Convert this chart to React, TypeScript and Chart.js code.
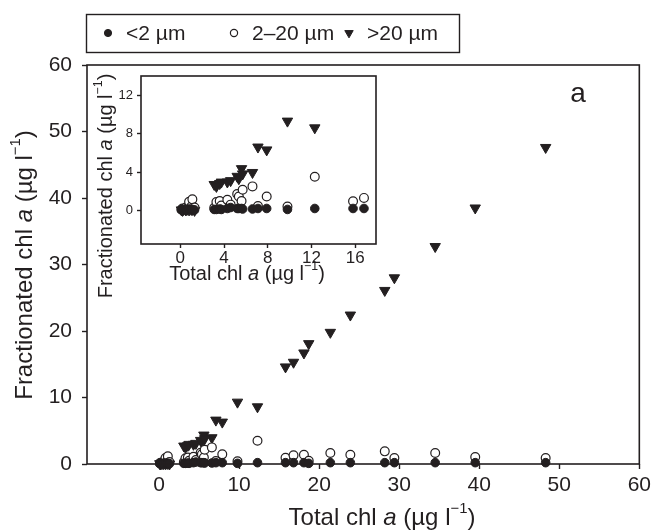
import React, { useEffect, useRef } from 'react';
import { Chart, registerables } from 'chart.js';
Chart.register(...registerables);

const FONT = '"Liberation Sans", Arial, Helvetica, sans-serif';
const INK = '#231f20';

// Total chl a (x) for each sample
const totalChl = [0.1, 0.2, 0.3, 0.5, 0.6, 0.8, 1.0, 1.1, 1.3, 3.1, 3.3, 3.6, 3.75, 4.3, 4.6, 5.2, 5.35, 5.6, 5.7, 6.6, 7.1, 7.9, 9.8, 12.3, 15.8, 16.8, 18.1, 18.7, 21.4, 23.9, 28.2, 29.4, 34.5, 39.5, 48.3];
// <2 µm fraction
const chlSmall = [0.05, 0.1, 0.05, 0.1, 0.05, 0.15, 0.1, 0.1, 0.05, 0.1, 0.1, 0.15, 0.1, 0.2, 0.3, 0.2, 0.2, 0.2, 0.15, 0.15, 0.2, 0.2, 0.1, 0.2, 0.2, 0.2, 0.2, 0.1, 0.2, 0.2, 0.2, 0.2, 0.2, 0.2, 0.2];
// 2–20 µm fraction
const chlMid = [0.1, 0.2, 0.15, 0.3, 0.2, 0.9, 0.4, 1.15, 0.3, 0.28, 0.87, 0.97, 0.5, 1.1, 0.6, 1.7, 1.45, 0.97, 2.15, 2.5, 0.45, 1.45, 0.4, 3.5, 0.95, 1.3, 1.4, 0.5, 1.65, 1.4, 1.9, 0.9, 1.65, 1.05, 0.9];
// >20 µm fraction
const chlLarge = [0.05, 0, 0.1, 0.05, 0.1, 0.05, 0.1, 0.1, 0, 2.7, 2.5, 2.8, 2.95, 2.96, 3.1, 3.55, 3.3, 4.35, 3.8, 3.95, 6.6, 6.3, 9.3, 8.6, 14.6, 15.3, 16.7, 18.1, 19.8, 22.4, 26.1, 28.0, 32.7, 38.5, 47.6];

const seriesLabels = ['<2 µm', '2–20 µm', '>20 µm'];
const mainXTicks = [0, 10, 20, 30, 40, 50, 60];
const mainYTicks = [0, 10, 20, 30, 40, 50, 60];
const insetXTicks = [0, 4, 8, 12, 16];
const insetYTicks = [0, 4, 8, 12];
const panelLabel = 'a';

const MAIN_X = [-9, 60];
const MAIN_Y = [0, 60];
const INSET_X = [-3.6, 17.9];
const INSET_Y = [-3.5, 14];

type Seg = { t: string; italic?: boolean; sup?: boolean };
const xTitleSegs: Seg[] = [{ t: 'Total chl ' }, { t: 'a', italic: true }, { t: ' (µg l' }, { t: '−1', sup: true }, { t: ')' }];
const yTitleSegs: Seg[] = [{ t: 'Fractionated chl ' }, { t: 'a', italic: true }, { t: ' (µg l' }, { t: '−1', sup: true }, { t: ')' }];

function segFont(s: Seg, size: number) {
  const sz = s.sup ? size * 0.62 : size;
  return `${s.italic ? 'italic ' : ''}${sz}px ${FONT}`;
}

function drawRich(ctx: CanvasRenderingContext2D, segs: Seg[], size: number, cx: number, cy: number, rotate: boolean) {
  ctx.save();
  ctx.translate(cx, cy);
  if (rotate) ctx.rotate(-Math.PI / 2);
  let total = 0;
  for (const s of segs) {
    ctx.font = segFont(s, size);
    total += ctx.measureText(s.t).width;
  }
  let x = -total / 2;
  ctx.fillStyle = INK;
  ctx.textBaseline = 'middle';
  ctx.textAlign = 'left';
  for (const s of segs) {
    ctx.font = segFont(s, size);
    ctx.fillText(s.t, x, s.sup ? -size * 0.36 : 0);
    x += ctx.measureText(s.t).width;
  }
  ctx.restore();
}

function pts(ys: number[], xr?: number[], yr?: number[]) {
  return totalChl
    .map((x, i) => ({ x, y: ys[i] }))
    .filter((p) => !xr || !yr || (p.x <= xr[1] && p.y <= yr[1]));
}

function makeDatasets(inset: boolean) {
  const c = inset ? 0 : false;
  const xr = inset ? INSET_X : undefined;
  const yr = inset ? INSET_Y : undefined;
  return [
    { label: seriesLabels[0], data: pts(chlSmall, xr, yr), pointStyle: 'circle', pointRadius: 4.3, backgroundColor: INK, borderColor: INK, borderWidth: 1, clip: c },
    { label: seriesLabels[1], data: pts(chlMid, xr, yr), pointStyle: 'circle', pointRadius: 4.4, backgroundColor: '#ffffff', borderColor: INK, borderWidth: 1.2, clip: c },
    { label: seriesLabels[2], data: pts(chlLarge, xr, yr), pointStyle: 'triangle', pointRotation: 180, pointRadius: 6, backgroundColor: INK, borderColor: INK, borderWidth: 1, clip: c },
  ];
}

function drawMarker(ctx: CanvasRenderingContext2D, ds: any, x: number, y: number, r: number) {
  ctx.save();
  ctx.fillStyle = ds.backgroundColor;
  ctx.strokeStyle = ds.borderColor;
  ctx.lineWidth = ds.borderWidth;
  ctx.beginPath();
  if (ds.pointStyle === 'triangle') {
    const rr = r * 1.35;
    ctx.moveTo(x - rr * 0.866, y - rr * 0.5);
    ctx.lineTo(x + rr * 0.866, y - rr * 0.5);
    ctx.lineTo(x, y + rr);
    ctx.closePath();
  } else {
    ctx.arc(x, y, r, 0, Math.PI * 2);
  }
  ctx.fill();
  ctx.stroke();
  ctx.restore();
}

const mainDecor = {
  id: 'mainDecor',
  afterDraw(chart: any) {
    const ctx: CanvasRenderingContext2D = chart.ctx;
    const a = chart.chartArea;
    ctx.save();
    ctx.strokeStyle = INK;
    ctx.lineWidth = 1.6;
    ctx.strokeRect(a.left, a.top, a.right - a.left, a.bottom - a.top);
    // panel label
    ctx.fillStyle = INK;
    ctx.font = `28px ${FONT}`;
    ctx.textAlign = 'center';
    ctx.textBaseline = 'alphabetic';
    ctx.fillText(panelLabel, 578, 102);
    // legend
    ctx.lineWidth = 1.4;
    ctx.strokeRect(86.5, 14.5, 373, 38);
    const items = [
      { mx: 108, tx: 126 },
      { mx: 234, tx: 252 },
      { mx: 349, tx: 367 },
    ];
    ctx.font = `21px ${FONT}`;
    ctx.textBaseline = 'middle';
    ctx.textAlign = 'left';
    chart.data.datasets.forEach((ds: any, i: number) => {
      drawMarker(ctx, ds, items[i].mx, 33, 3.6);
      ctx.fillStyle = INK;
      ctx.fillText(ds.label, items[i].tx, 34);
    });
    ctx.restore();
    drawRich(ctx, xTitleSegs, 24, 382, 518, false);
    drawRich(ctx, yTitleSegs, 24, 25, 265, true);
  },
};

const insetDecor = {
  id: 'insetDecor',
  beforeDraw(chart: any) {
    const ctx: CanvasRenderingContext2D = chart.ctx;
    const a = chart.chartArea;
    ctx.save();
    ctx.fillStyle = '#ffffff';
    ctx.fillRect(a.left, a.top, a.right - a.left, a.bottom - a.top);
    ctx.restore();
  },
  afterDraw(chart: any) {
    const ctx: CanvasRenderingContext2D = chart.ctx;
    const a = chart.chartArea;
    ctx.save();
    ctx.strokeStyle = INK;
    ctx.lineWidth = 1.6;
    ctx.strokeRect(a.left, a.top, a.right - a.left, a.bottom - a.top);
    ctx.restore();
    drawRich(ctx, xTitleSegs, 20, 247, 274, false);
    drawRich(ctx, yTitleSegs, 20, 106, 186, true);
  },
};

function axis(range: number[], ticks: number[], size: number, fontSize: number, pad: number, tickLen: number, isX: boolean) {
  return {
    type: 'linear' as const,
    min: range[0],
    max: range[1],
    afterBuildTicks: (s: any) => {
      s.ticks = ticks.map((v) => ({ value: v }));
    },
    afterFit: (s: any) => {
      if (isX) s.height = size;
      else s.width = size;
    },
    grid: { display: true, drawOnChartArea: false, drawTicks: true, tickLength: tickLen, tickColor: INK, tickWidth: 1.4 },
    border: { display: false },
    ticks: { font: { size: fontSize, family: FONT }, color: INK, padding: pad, maxRotation: 0, autoSkip: false },
    title: { display: false },
  };
}

export default function App() {
  const mainRef = useRef<HTMLCanvasElement>(null);
  const insetRef = useRef<HTMLCanvasElement>(null);

  useEffect(() => {
    const main = new Chart(mainRef.current as HTMLCanvasElement, {
      type: 'scatter',
      data: { datasets: makeDatasets(false) as any },
      options: {
        responsive: false,
        animation: false,
        devicePixelRatio: 1,
        layout: { padding: { top: 65, right: 13, left: 0, bottom: 0 } },
        plugins: { legend: { display: false }, tooltip: { enabled: false } },
        scales: {
          x: axis(MAIN_X, mainXTicks, 68, 21, 4, 5, true),
          y: axis(MAIN_Y, mainYTicks, 87, 21, 10, 5, false),
        },
      },
      plugins: [mainDecor],
    });
    const inset = new Chart(insetRef.current as HTMLCanvasElement, {
      type: 'scatter',
      data: { datasets: makeDatasets(true) as any },
      options: {
        responsive: false,
        animation: false,
        devicePixelRatio: 1,
        layout: { padding: { top: 76, right: 24, left: 0, bottom: 0 } },
        plugins: { legend: { display: false }, tooltip: { enabled: false } },
        scales: {
          x: axis(INSET_X, insetXTicks, 56, 17, 0, 4, true),
          y: axis(INSET_Y, insetYTicks, 141, 13, 4, 4, false),
        },
      },
      plugins: [insetDecor],
    });
    return () => {
      main.destroy();
      inset.destroy();
    };
  }, []);

  return (
    <div style={{ position: 'absolute', left: 0, top: 0, width: 655, height: 532, background: '#fff' }}>
      <canvas ref={mainRef} width={655} height={532} style={{ position: 'absolute', left: 0, top: 0, width: 655, height: 532 }} />
      <canvas ref={insetRef} width={400} height={300} style={{ position: 'absolute', left: 0, top: 0, width: 400, height: 300 }} />
    </div>
  );
}
